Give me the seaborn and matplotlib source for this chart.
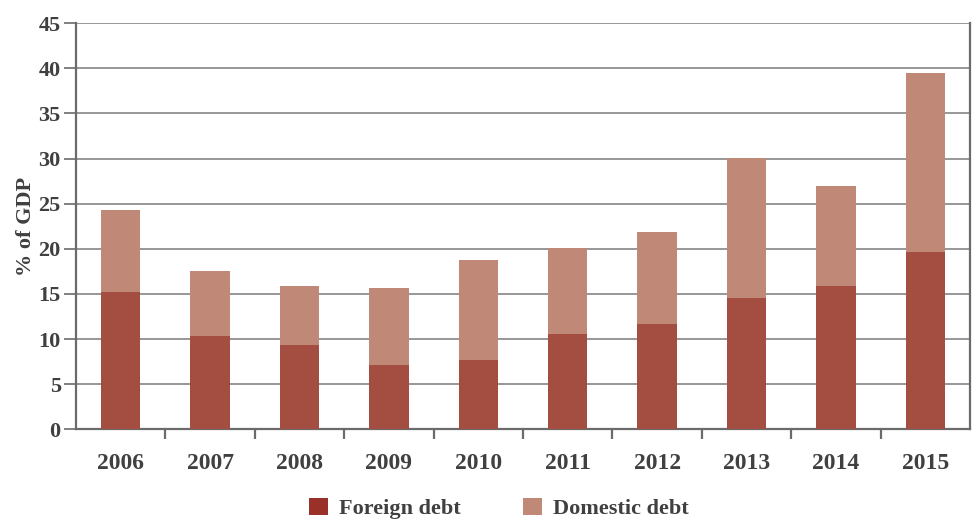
import matplotlib
matplotlib.use("Agg")
import matplotlib.pyplot as plt
from matplotlib.patches import Patch
from matplotlib.ticker import FixedLocator
import seaborn as sns
import pandas as pd

years = ["2006", "2007", "2008", "2009", "2010", "2011", "2012", "2013", "2014", "2015"]
foreign_debt = [15.2, 10.4, 9.3, 7.1, 7.7, 10.6, 11.7, 14.6, 15.9, 19.7]
domestic_debt = [9.1, 7.1, 6.6, 8.6, 11.1, 9.5, 10.2, 15.5, 11.1, 19.8]
y_ticks = [0, 5, 10, 15, 20, 25, 30, 35, 40, 45]

total_debt = [f + d for f, d in zip(foreign_debt, domestic_debt)]
df = pd.DataFrame({"year": years, "foreign": foreign_debt, "total": total_debt})

FOREIGN = "#A34E40"
DOMESTIC = "#C08877"
TEXT = "#404040"
AXIS = "#6b6b6b"

sns.set_theme(style="white")
plt.rcParams["font.family"] = ["Liberation Serif", "DejaVu Serif"]
plt.rcParams["font.weight"] = "bold"

fig = plt.figure(figsize=(9.77, 5.23), dpi=100)
ax = fig.add_axes([0.0778, 0.1788, 0.9150, 0.7772])

# stacked bars: the full height in the domestic colour, foreign part drawn over it
sns.barplot(data=df, x="year", y="total", color=DOMESTIC, width=0.44,
            saturation=1, linewidth=0, edgecolor="none", ax=ax, zorder=3)
sns.barplot(data=df, x="year", y="foreign", color=FOREIGN, width=0.44,
            saturation=1, linewidth=0, edgecolor="none", ax=ax, zorder=4)

ax.set_xlim(-0.5, len(years) - 0.5)
ax.set_ylim(0, 45)
ax.set_yticks(y_ticks)
ax.set_yticklabels([str(t) for t in y_ticks])
ax.yaxis.grid(True, color="#7a7a7a", linewidth=1.1, zorder=0)
ax.set_axisbelow(True)

for side in ["left", "bottom", "right"]:
    ax.spines[side].set_visible(True)
    ax.spines[side].set_color(AXIS)
    ax.spines[side].set_linewidth(1.6)
ax.spines["top"].set_visible(False)

# category separators on the x axis
ax.xaxis.set_minor_locator(FixedLocator([i + 0.5 for i in range(len(years) - 1)]))
ax.tick_params(axis="x", which="major", length=0, pad=17, labelsize=17, labelcolor=TEXT)
ax.tick_params(axis="x", which="minor", bottom=True, length=7, width=1.6, color=AXIS)
ax.tick_params(axis="y", which="major", left=True, length=9, width=1.2, color=AXIS,
               pad=2, labelsize=16, labelcolor=TEXT)
for lab in ax.get_xticklabels() + ax.get_yticklabels():
    lab.set_fontweight("bold")

ax.set_xlabel("")
ax.set_ylabel("% of GDP", fontsize=16, fontweight="bold", color=TEXT, labelpad=2)

handles = [Patch(facecolor="#9A302A", edgecolor="none", label="Foreign debt"),
           Patch(facecolor=DOMESTIC, edgecolor="none", label="Domestic debt")]
leg = fig.legend(handles=handles, loc="center", bbox_to_anchor=(0.511, 0.028), ncol=2,
                 frameon=False, fontsize=16, handlelength=0.85, handleheight=0.85,
                 columnspacing=2.8, handletextpad=0.5)
for t in leg.get_texts():
    t.set_color(TEXT)
    t.set_fontweight("bold")

fig.savefig("out.png", dpi=100, facecolor="white")
